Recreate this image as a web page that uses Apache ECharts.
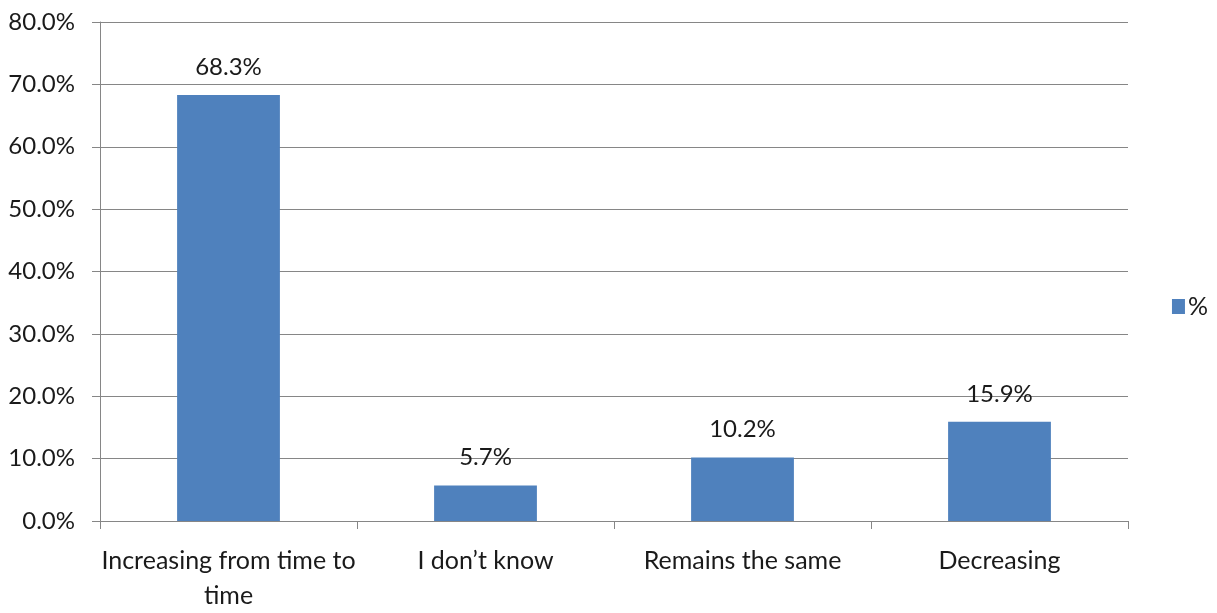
<!DOCTYPE html>
<html><head><meta charset="utf-8">
<script src="https://cdn.jsdelivr.net/npm/echarts@6/dist/echarts.min.js"></script>
<style>html,body{margin:0;padding:0;background:#fff}#c{width:1217px;height:613px}</style>
</head><body><div id="c"></div>
<script>
const categories = ['Increasing from time to\ntime', 'I don\u2019t know', 'Remains the same', 'Decreasing'];
const values = [68.3, 5.7, 10.2, 15.9];
const seriesName = '%';
const yMin = 0, yMax = 80, yStep = 10;

const font = 'Lato, "Open Sans", sans-serif';
const chart = echarts.init(document.getElementById('c'), null, {renderer: 'canvas'});
chart.setOption({
  animation: false,
  backgroundColor: '#fff',
  grid: {left: 100, right: 89, top: 22, bottom: 89, containLabel: false},
  legend: {
    show: true, right: 4, top: 'middle', orient: 'vertical',
    itemWidth: 13, itemHeight: 15, itemGap: 8,
    icon: 'rect',
    textStyle: {fontFamily: font, fontSize: 25, color: '#1a1a1a', padding: [0,0,0,-2]},
    data: [seriesName]
  },
  xAxis: {
    type: 'category', data: categories,
    axisLine: {lineStyle: {color: '#868686', width: 1}},
    axisTick: {show: true, length: 8, alignWithLabel: false, lineStyle: {color: '#868686'}},
    axisLabel: {fontFamily: font, fontSize: 25, color: '#1a1a1a', margin: 22, lineHeight: 35, interval: 0}
  },
  yAxis: {
    type: 'value', min: yMin, max: yMax, interval: yStep,
    axisLine: {show: true, lineStyle: {color: '#868686'}},
    axisTick: {show: true, length: 8, lineStyle: {color: '#868686'}},
    splitLine: {lineStyle: {color: '#868686', width: 1}},
    axisLabel: {fontFamily: font, fontSize: 24, color: '#1a1a1a', margin: 25,
      formatter: v => v.toFixed(1) + '%'}
  },
  series: [{
    name: seriesName, type: 'bar', data: values, barWidth: '40%',
    itemStyle: {color: '#4f81bd'},
    label: {show: true, position: 'top', distance: 16, fontFamily: font, fontSize: 24, color: '#1a1a1a',
      formatter: p => p.value.toFixed(1) + '%'}
  }]
});
</script></body></html>
